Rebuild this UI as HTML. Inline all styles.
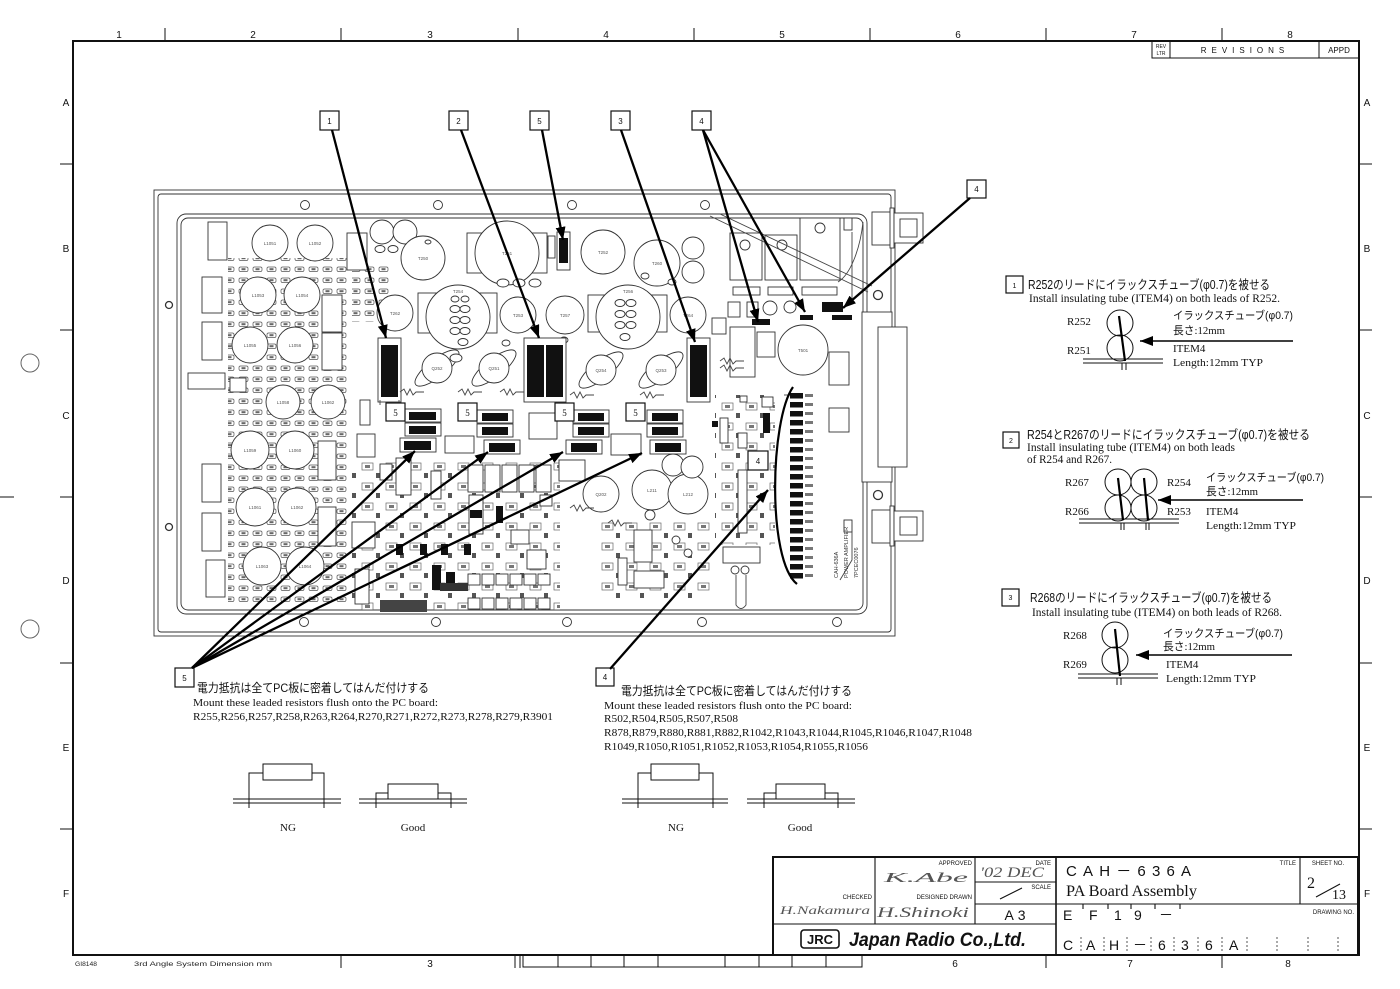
<!DOCTYPE html>
<html><head><meta charset="utf-8">
<style>
html,body{margin:0;padding:0;background:#fff;}
svg{display:block;}
.jp{font-family:"Liberation Sans","Noto Sans CJK JP",sans-serif;}
.sf{font-family:"Liberation Serif","Noto Sans CJK JP",serif;}
.ss{font-family:"Liberation Sans","Noto Sans CJK JP",sans-serif;}
</style></head><body>
<svg width="1400" height="989" viewBox="0 0 1400 989" xmlns="http://www.w3.org/2000/svg">
<defs>
<marker id="ah" markerUnits="userSpaceOnUse" markerWidth="13" markerHeight="10" refX="13" refY="5" orient="auto">
<path d="M0,0 L13,5 L0,10 z" fill="#000"/>
</marker>
<pattern id="smd" width="14" height="11" patternUnits="userSpaceOnUse">
<rect x="1" y="3" width="9" height="4.5" rx="1.5" fill="none" stroke="#555" stroke-width="0.7"/>
<rect x="3.5" y="4.2" width="4" height="2" fill="#666"/>
</pattern>
<pattern id="sp" width="24" height="20" patternUnits="userSpaceOnUse">
<rect x="2" y="3" width="11" height="7" fill="none" stroke="#666" stroke-width="0.7"/>
<rect x="5" y="5" width="5" height="3" fill="#777"/>
<rect x="16" y="13" width="4" height="5" fill="#555"/>
</pattern>
</defs>
<rect width="1400" height="989" fill="#fff"/>

<!-- ===== drawing frame ===== -->
<g stroke="#111" fill="none">
<rect x="73" y="41" width="1286" height="914" stroke-width="2"/>
<g stroke-width="1">
<line x1="165" y1="28" x2="165" y2="41"/><line x1="341" y1="28" x2="341" y2="41"/><line x1="518" y1="28" x2="518" y2="41"/><line x1="694" y1="28" x2="694" y2="41"/><line x1="870" y1="28" x2="870" y2="41"/><line x1="1046" y1="28" x2="1046" y2="41"/><line x1="1222" y1="28" x2="1222" y2="41"/>
<line x1="60" y1="164" x2="73" y2="164"/><line x1="60" y1="330" x2="73" y2="330"/><line x1="60" y1="497" x2="73" y2="497"/><line x1="60" y1="663" x2="73" y2="663"/><line x1="60" y1="829" x2="73" y2="829"/>
<line x1="1359" y1="164" x2="1372" y2="164"/><line x1="1359" y1="330" x2="1372" y2="330"/><line x1="1359" y1="497" x2="1372" y2="497"/><line x1="1359" y1="663" x2="1372" y2="663"/><line x1="1359" y1="829" x2="1372" y2="829"/>
<line x1="341" y1="955" x2="341" y2="968"/><line x1="515" y1="955" x2="515" y2="968"/><line x1="520" y1="955" x2="520" y2="968"/>
<line x1="1046" y1="955" x2="1046" y2="968"/><line x1="1222" y1="955" x2="1222" y2="968"/>
<line x1="0" y1="497" x2="14" y2="497"/>
</g>
<circle cx="30" cy="363" r="9" stroke="#666" stroke-width="1"/>
<circle cx="30" cy="629" r="9" stroke="#666" stroke-width="1"/>
<g stroke-width="1">
<rect x="523" y="955" width="339" height="12"/>
<line x1="558" y1="955" x2="558" y2="967"/><line x1="591" y1="955" x2="591" y2="967"/><line x1="624" y1="955" x2="624" y2="967"/><line x1="658" y1="955" x2="658" y2="967"/><line x1="725" y1="955" x2="725" y2="967"/><line x1="759" y1="955" x2="759" y2="967"/><line x1="792" y1="955" x2="792" y2="967"/><line x1="826" y1="955" x2="826" y2="967"/>
</g>
<rect x="1152" y="41" width="207" height="17" stroke-width="1"/>
<line x1="1170" y1="41" x2="1170" y2="58" stroke-width="1"/>
<line x1="1319" y1="41" x2="1319" y2="58" stroke-width="1"/>
</g>
<g class="ss" font-size="10" fill="#111" text-anchor="middle">
<text x="119" y="38">1</text><text x="253" y="38">2</text><text x="430" y="38">3</text><text x="606" y="38">4</text><text x="782" y="38">5</text><text x="958" y="38">6</text><text x="1134" y="38">7</text><text x="1290" y="38">8</text>
<text x="66" y="106">A</text><text x="66" y="252">B</text><text x="66" y="419">C</text><text x="66" y="584">D</text><text x="66" y="751">E</text><text x="66" y="897">F</text>
<text x="1367" y="106">A</text><text x="1367" y="252">B</text><text x="1367" y="419">C</text><text x="1367" y="584">D</text><text x="1367" y="751">E</text><text x="1367" y="897">F</text>
<text x="430" y="967">3</text><text x="955" y="967">6</text><text x="1130" y="967">7</text><text x="1288" y="967">8</text>
<text x="1161" y="48" font-size="5">REV</text><text x="1161" y="55" font-size="5">LTR</text>
<text x="1245" y="53" font-size="8" letter-spacing="5">REVISIONS</text>
<text x="1339" y="53" font-size="8">APPD</text>
</g>
<g class="ss" font-size="6.5" fill="#222">
<text x="75" y="966" textLength="22" lengthAdjust="spacingAndGlyphs">GI8148</text>
<text x="134" y="966" textLength="138" lengthAdjust="spacingAndGlyphs">3rd Angle System  Dimension mm</text>
</g>

<!-- ===== PCB ===== -->
<g stroke="#333" stroke-width="0.9" fill="none">
<rect x="154" y="190" width="741" height="446"/>
<rect x="158" y="194" width="733" height="438" rx="3"/>
<rect x="177" y="214" width="690" height="400" rx="9"/>
<rect x="181" y="218" width="682" height="392" rx="7"/>
</g>
<rect x="228" y="258" width="122" height="345" fill="url(#smd)"/>
<rect x="352" y="262" width="40" height="60" fill="url(#smd)"/>
<rect x="350" y="462" width="210" height="148" fill="url(#sp)"/>
<rect x="600" y="520" width="110" height="80" fill="url(#sp)"/>
<rect x="715" y="395" width="60" height="150" fill="url(#sp)"/>

<g stroke="#333" stroke-width="0.9" fill="#fff">
<circle cx="305" cy="205" r="4.5"/><circle cx="438" cy="205" r="4.5"/><circle cx="572" cy="205" r="4.5"/><circle cx="705" cy="205" r="4.5"/>
<circle cx="304" cy="622" r="4.5"/><circle cx="436" cy="622" r="4.5"/><circle cx="567" cy="622" r="4.5"/><circle cx="702" cy="622" r="4.5"/><circle cx="837" cy="622" r="4.5"/>
<circle cx="169" cy="305" r="3.5" stroke-width="1.3"/><circle cx="169" cy="527" r="3.5" stroke-width="1.3"/>
<circle cx="878" cy="295" r="4.5" stroke-width="1.3"/><circle cx="878" cy="495" r="4.5" stroke-width="1.3"/>
<rect x="208" y="222" width="19" height="38"/>
<circle cx="270" cy="243" r="18"/><circle cx="315" cy="243" r="18"/>
<rect x="202" y="277" width="20" height="36"/><rect x="202" y="322" width="20" height="38"/>
<circle cx="258" cy="295" r="18"/><circle cx="302" cy="295" r="18"/>
<circle cx="250" cy="345" r="18"/><circle cx="295" cy="345" r="18"/>
<rect x="322" y="295" width="20" height="37"/><rect x="322" y="333" width="20" height="37"/>
<rect x="188" y="373" width="37" height="16"/>
<circle cx="283" cy="402" r="17"/><circle cx="328" cy="402" r="17"/>
<circle cx="250" cy="450" r="19"/><circle cx="295" cy="450" r="19"/>
<circle cx="255" cy="507" r="19"/><circle cx="297" cy="507" r="19"/>
<circle cx="262" cy="566" r="19"/><circle cx="305" cy="566" r="19"/>
<rect x="202" y="464" width="19" height="38"/><rect x="202" y="513" width="19" height="38"/><rect x="206" y="560" width="19" height="37"/>
<rect x="318" y="441" width="18" height="39"/><rect x="318" y="507" width="18" height="39"/>
<rect x="360" y="400" width="10" height="25"/>
<rect x="347" y="233" width="20" height="37"/>
<rect x="230" y="378" width="16" height="14"/>
<circle cx="382" cy="232" r="12"/><circle cx="405" cy="232" r="12"/>
<circle cx="423" cy="258" r="22"/>
<rect x="418" y="293" width="79" height="40"/><circle cx="458" cy="317" r="32"/>
<circle cx="395" cy="313" r="18"/>
<rect x="467" y="233" width="80" height="40"/><circle cx="507" cy="253" r="32"/>
<circle cx="518" cy="315" r="18"/>
<circle cx="565" cy="315" r="19"/>
<rect x="588" y="295" width="79" height="37"/><circle cx="628" cy="317" r="32"/>
<circle cx="603" cy="252" r="22"/>
<circle cx="657" cy="263" r="23"/>
<circle cx="693" cy="248" r="11"/><circle cx="693" cy="272" r="11"/>
<circle cx="688" cy="315" r="18"/>
<rect x="557" y="232" width="13" height="38"/>
<rect x="548" y="236" width="7" height="22"/>
<ellipse cx="437" cy="368" rx="27" ry="9" transform="rotate(-38 437 368)"/><circle cx="437" cy="368" r="15"/>
<ellipse cx="494" cy="368" rx="27" ry="9" transform="rotate(-38 494 368)"/><circle cx="494" cy="368" r="15"/>
<ellipse cx="601" cy="370" rx="27" ry="9" transform="rotate(-38 601 370)"/><circle cx="601" cy="370" r="15"/>
<ellipse cx="661" cy="370" rx="27" ry="9" transform="rotate(-38 661 370)"/><circle cx="661" cy="370" r="15"/>
<ellipse cx="380" cy="249" rx="5" ry="3.5"/><ellipse cx="393" cy="249" rx="5" ry="3.5"/>
<ellipse cx="503" cy="283" rx="6" ry="4"/><ellipse cx="519" cy="283" rx="6" ry="4"/><ellipse cx="535" cy="283" rx="6" ry="4"/>
<ellipse cx="455" cy="299" rx="4" ry="3"/><ellipse cx="465" cy="299" rx="4" ry="3"/><ellipse cx="455" cy="309" rx="5" ry="3.5"/><ellipse cx="465" cy="309" rx="5" ry="3.5"/><ellipse cx="455" cy="320" rx="5" ry="3.5"/><ellipse cx="465" cy="320" rx="5" ry="3.5"/><ellipse cx="455" cy="331" rx="5" ry="3.5"/><ellipse cx="465" cy="331" rx="5" ry="3.5"/><ellipse cx="463" cy="342" rx="5" ry="3.5"/>
<ellipse cx="620" cy="303" rx="5" ry="3.5"/><ellipse cx="631" cy="303" rx="5" ry="3.5"/><ellipse cx="620" cy="314" rx="5" ry="3.5"/><ellipse cx="631" cy="314" rx="5" ry="3.5"/><ellipse cx="620" cy="325" rx="5" ry="3.5"/><ellipse cx="631" cy="325" rx="5" ry="3.5"/><ellipse cx="625" cy="337" rx="5" ry="3.5"/>
<ellipse cx="428" cy="242" rx="3" ry="2"/><ellipse cx="456" cy="358" rx="6" ry="4"/><ellipse cx="564" cy="340" rx="4" ry="3"/><ellipse cx="506" cy="343" rx="4" ry="3"/>
<ellipse cx="645" cy="276" rx="4" ry="3"/><ellipse cx="672" cy="282" rx="4" ry="3"/>
<rect x="378" y="338" width="23" height="64"/>
<rect x="524" y="338" width="42" height="64"/>
<rect x="687" y="338" width="23" height="64"/>
<rect x="405" y="409" width="36" height="13"/><rect x="405" y="423" width="36" height="13"/><rect x="400" y="438" width="36" height="14"/>
<rect x="477" y="410" width="36" height="13"/><rect x="477" y="424" width="36" height="13"/><rect x="484" y="440" width="36" height="14"/>
<rect x="573" y="410" width="36" height="13"/><rect x="573" y="424" width="36" height="13"/><rect x="566" y="440" width="36" height="14"/>
<rect x="647" y="410" width="36" height="13"/><rect x="647" y="424" width="36" height="13"/><rect x="650" y="440" width="36" height="14"/>
<rect x="445" y="436" width="29" height="17"/><rect x="611" y="434" width="30" height="21"/>
<rect x="529" y="413" width="28" height="26"/>
<rect x="357" y="434" width="18" height="23"/>
<rect x="380" y="464" width="12" height="16"/>
<rect x="396" y="458" width="15" height="37"/>
<rect x="431" y="471" width="10" height="28"/>
<rect x="468" y="465" width="15" height="27"/><rect x="485" y="465" width="15" height="27"/><rect x="502" y="465" width="15" height="27"/><rect x="519" y="465" width="15" height="27"/><rect x="536" y="465" width="15" height="27"/>
<rect x="559" y="460" width="26" height="21"/>
<rect x="352" y="522" width="23" height="26"/>
<rect x="355" y="569" width="14" height="35"/>
<rect x="469" y="495" width="14" height="39"/>
<rect x="511" y="530" width="18" height="14"/>
<rect x="527" y="550" width="19" height="19"/>
<rect x="540" y="495" width="12" height="11"/>
<rect x="468" y="574" width="12" height="11"/><rect x="482" y="574" width="12" height="11"/><rect x="496" y="574" width="12" height="11"/><rect x="510" y="574" width="12" height="11"/><rect x="524" y="574" width="12" height="11"/><rect x="538" y="574" width="12" height="11"/>
<rect x="468" y="598" width="12" height="11"/><rect x="482" y="598" width="12" height="11"/><rect x="496" y="598" width="12" height="11"/><rect x="510" y="598" width="12" height="11"/><rect x="524" y="598" width="12" height="11"/><rect x="538" y="598" width="12" height="11"/>
<rect x="618" y="558" width="9" height="27"/>
<rect x="634" y="571" width="30" height="17"/>
<rect x="634" y="530" width="18" height="32"/>
<circle cx="601" cy="494" r="18"/><circle cx="652" cy="490" r="20"/><circle cx="688" cy="494" r="20"/>
<circle cx="673" cy="465" r="11"/><circle cx="692" cy="467" r="11"/>
<circle cx="650" cy="515" r="5"/><circle cx="676" cy="540" r="4"/><circle cx="688" cy="553" r="4"/>
<rect x="730" y="233" width="32" height="47"/><rect x="765" y="235" width="32" height="45"/><rect x="800" y="218" width="40" height="62"/>
<rect x="733" y="287" width="27" height="8"/><rect x="768" y="287" width="25" height="8"/><rect x="802" y="287" width="35" height="8"/>
<circle cx="745" cy="245" r="5"/><circle cx="782" cy="245" r="5"/><circle cx="820" cy="228" r="5"/>
<rect x="728" y="302" width="12" height="15"/><rect x="747" y="302" width="11" height="15"/>
<circle cx="770" cy="308" r="7"/><circle cx="790" cy="307" r="6"/>
<rect x="712" y="318" width="14" height="16"/>
<rect x="730" y="327" width="25" height="50"/>
<rect x="757" y="332" width="18" height="25"/>
<circle cx="803" cy="350" r="25"/>
<rect x="829" y="352" width="20" height="33"/>
<rect x="829" y="408" width="20" height="24"/>
<rect x="740" y="396" width="7" height="6"/><rect x="762" y="397" width="11" height="10"/>
<rect x="720" y="418" width="8" height="25"/><rect x="738" y="433" width="9" height="15"/>
<rect x="738" y="470" width="9" height="63"/>
<rect x="723" y="547" width="37" height="16"/>
<circle cx="735" cy="570" r="4"/><circle cx="745" cy="570" r="4"/>
<rect x="862" y="312" width="30" height="170"/>
<rect x="878" y="327" width="29" height="140"/>
<rect x="872" y="212" width="20" height="33"/><rect x="890" y="208" width="4" height="40"/><rect x="894" y="213" width="29" height="30"/><rect x="900" y="219" width="17" height="18"/>
<rect x="872" y="510" width="20" height="33"/><rect x="890" y="506" width="4" height="40"/><rect x="894" y="511" width="29" height="30"/><rect x="900" y="517" width="17" height="18"/>
<rect x="844" y="218" width="8" height="12"/><rect x="844" y="520" width="8" height="12"/>
</g>
<g stroke="#444" stroke-width="0.9" fill="none">
<path d="M710 216 L868 292"/><path d="M720 214 L872 286"/>
<path d="M863 222 C 860 250, 850 275, 838 282"/>
<path d="M736 575 L736 605 Q741 612 746 605 L746 575"/>
<path d="M852 232 L852 300"/><path d="M852 525 L852 560 L840 580"/>
<polyline points="400,392 404,389 407,395 410,389 413,395 416,392 424,392"/>
<polyline points="458,392 462,389 465,395 468,389 471,395 474,392 482,392"/>
<polyline points="500,392 504,389 507,395 510,389 513,395 516,392 524,392"/>
<polyline points="570,395 574,392 577,398 580,392 583,398 586,395 594,395"/>
<polyline points="640,395 644,392 647,398 650,392 653,398 656,395 664,395"/>
<polyline points="570,508 574,505 577,511 580,505 583,511 586,508 594,508"/>
<polyline points="608,523 612,520 615,526 618,520 621,526 624,523 632,523"/>
<polyline points="720,361 724,358 727,364 730,358 733,364 736,361 744,361"/>
<polyline points="720,368 724,365 727,371 730,365 733,371 736,368 744,368"/>
<line x1="784" y1="395" x2="790" y2="395"/>
<path d="M380 405 V400 M399 405 V400"/>
</g>
<g fill="#111">
<rect x="381" y="345" width="17" height="52"/>
<rect x="527" y="345" width="17" height="52"/><rect x="546" y="345" width="17" height="52"/>
<rect x="690" y="345" width="17" height="52"/>
<rect x="559" y="238" width="9" height="25"/>
<rect x="409" y="412" width="27" height="8"/><rect x="409" y="426" width="27" height="8"/><rect x="404" y="441" width="27" height="9"/>
<rect x="482" y="413" width="26" height="8"/><rect x="482" y="427" width="26" height="8"/><rect x="489" y="443" width="26" height="9"/>
<rect x="578" y="413" width="26" height="8"/><rect x="578" y="427" width="26" height="8"/><rect x="571" y="443" width="26" height="9"/>
<rect x="652" y="413" width="26" height="8"/><rect x="652" y="427" width="26" height="8"/><rect x="655" y="443" width="26" height="9"/>
<rect x="396" y="544" width="7" height="11"/><rect x="420" y="544" width="7" height="11"/><rect x="441" y="544" width="7" height="11"/><rect x="464" y="544" width="7" height="11"/>
<rect x="432" y="565" width="9" height="25"/><rect x="446" y="572" width="9" height="18"/>
<rect x="496" y="506" width="7" height="17"/><rect x="470" y="510" width="12" height="8"/>
<rect x="380" y="600" width="47" height="12" fill="#444"/>
<rect x="440" y="583" width="28" height="8" fill="#333"/>
<rect x="752" y="319" width="18" height="6"/><rect x="800" y="315" width="13" height="5"/><rect x="822" y="302" width="21" height="10"/><rect x="832" y="315" width="20" height="5"/>
<rect x="763" y="413" width="7" height="20"/>
<rect x="712" y="421" width="6" height="6"/>
<rect x="790" y="393" width="13" height="5.5"/><rect x="790" y="402" width="13" height="5.5"/><rect x="790" y="411" width="13" height="5.5"/><rect x="790" y="420" width="13" height="5.5"/><rect x="790" y="429" width="13" height="5.5"/><rect x="790" y="438" width="13" height="5.5"/><rect x="790" y="447" width="13" height="5.5"/><rect x="790" y="456" width="13" height="5.5"/><rect x="790" y="465" width="13" height="5.5"/><rect x="790" y="474" width="13" height="5.5"/><rect x="790" y="483" width="13" height="5.5"/><rect x="790" y="492" width="13" height="5.5"/><rect x="790" y="501" width="13" height="5.5"/><rect x="790" y="510" width="13" height="5.5"/><rect x="790" y="519" width="13" height="5.5"/><rect x="790" y="528" width="13" height="5.5"/><rect x="790" y="537" width="13" height="5.5"/><rect x="790" y="546" width="13" height="5.5"/><rect x="790" y="555" width="13" height="5.5"/><rect x="790" y="564" width="13" height="5.5"/><rect x="790" y="573" width="13" height="5.5"/>
</g>
<g fill="#777">
<rect x="805" y="394" width="8" height="3"/><rect x="805" y="403" width="8" height="3"/><rect x="805" y="412" width="8" height="3"/><rect x="805" y="421" width="8" height="3"/><rect x="805" y="430" width="8" height="3"/><rect x="805" y="439" width="8" height="3"/><rect x="805" y="448" width="8" height="3"/><rect x="805" y="457" width="8" height="3"/><rect x="805" y="466" width="8" height="3"/><rect x="805" y="475" width="8" height="3"/><rect x="805" y="484" width="8" height="3"/><rect x="805" y="493" width="8" height="3"/><rect x="805" y="502" width="8" height="3"/><rect x="805" y="511" width="8" height="3"/><rect x="805" y="520" width="8" height="3"/><rect x="805" y="529" width="8" height="3"/><rect x="805" y="538" width="8" height="3"/><rect x="805" y="547" width="8" height="3"/><rect x="805" y="556" width="8" height="3"/><rect x="805" y="565" width="8" height="3"/><rect x="805" y="574" width="8" height="3"/>
</g>
<path d="M793 387 C 770 420, 767 560, 797 584" stroke="#000" stroke-width="2.2" fill="none"/>
<g class="ss" font-size="4.5" fill="#555" text-anchor="middle">
<text x="270" y="245">L1051</text><text x="315" y="245">L1052</text><text x="258" y="297">L1053</text><text x="302" y="297">L1054</text>
<text x="250" y="347">L1055</text><text x="295" y="347">L1056</text><text x="283" y="404">L1058</text><text x="328" y="404">L1062</text>
<text x="250" y="452">L1059</text><text x="295" y="452">L1060</text><text x="255" y="509">L1061</text><text x="297" y="509">L1062</text>
<text x="262" y="568">L1063</text><text x="305" y="568">L1064</text>
<text x="423" y="260">T250</text><text x="395" y="315">T262</text><text x="458" y="293">T254</text><text x="507" y="255">T251</text>
<text x="518" y="317">T253</text><text x="565" y="317">T257</text><text x="628" y="293">T256</text><text x="603" y="254">T252</text>
<text x="657" y="265">T260</text><text x="688" y="317">T264</text><text x="803" y="352">T501</text>
<text x="437" y="370">Q252</text><text x="494" y="370">Q251</text><text x="601" y="372">Q254</text><text x="661" y="372">Q253</text>
<text x="601" y="496">Q202</text><text x="652" y="492">L211</text><text x="688" y="496">L212</text>
</g>
<g class="ss" font-size="5.5" fill="#333">
<text transform="translate(838,578) rotate(-90)">CAH-636A</text>
<text transform="translate(848,578) rotate(-90)">POWER AMPLIFIER</text>
<text transform="translate(858,578) rotate(-90)">7PCEC0076</text>
</g>

<!-- ===== callout boxes ===== -->
<g stroke="#111" stroke-width="1.2" fill="#fff">
<rect x="320" y="111" width="19" height="19"/><rect x="449" y="111" width="19" height="19"/><rect x="530" y="111" width="19" height="19"/><rect x="611" y="111" width="19" height="19"/><rect x="692" y="111" width="19" height="19"/>
<rect x="967" y="180" width="19" height="18"/>
<rect x="386" y="403" width="19" height="18"/><rect x="458" y="403" width="19" height="18"/><rect x="555" y="403" width="19" height="18"/><rect x="626" y="403" width="19" height="18"/>
<rect x="748" y="451" width="20" height="19"/>
<rect x="175" y="668" width="19" height="19"/><rect x="596" y="668" width="18" height="18"/>
<rect x="1006" y="276" width="17" height="17"/><rect x="1003" y="432" width="16" height="16"/><rect x="1002" y="589" width="17" height="17"/>
</g>
<g class="ss" font-size="8" fill="#111" text-anchor="middle">
<text x="329.5" y="124">1</text><text x="458.5" y="124">2</text><text x="539.5" y="124">5</text><text x="620.5" y="124">3</text><text x="701.5" y="124">4</text>
<text x="976.5" y="192">4</text>
<text class="sf" x="395.5" y="416" font-size="9">5</text><text class="sf" x="467.5" y="416" font-size="9">5</text><text class="sf" x="564.5" y="416" font-size="9">5</text><text class="sf" x="635.5" y="416" font-size="9">5</text>
<text x="758" y="464">4</text>
<text x="184.5" y="681">5</text><text x="605" y="680">4</text>
<text x="1014.5" y="288" font-size="7">1</text><text x="1011" y="443" font-size="7">2</text><text x="1010.5" y="600" font-size="7">3</text>
</g>

<!-- ===== arrows ===== -->
<g stroke="#000" stroke-width="2.3" fill="none" marker-end="url(#ah)">
<line x1="332" y1="130" x2="386" y2="338"/>
<line x1="461" y1="130" x2="539" y2="338"/>
<line x1="542" y1="130" x2="563" y2="240"/>
<line x1="621" y1="130" x2="695" y2="342"/>
<line x1="703" y1="130" x2="758" y2="322"/>
<line x1="703" y1="130" x2="805" y2="312"/>
<line x1="970" y1="198" x2="843" y2="308"/>
<line x1="192" y1="668" x2="415" y2="451"/>
<line x1="192" y1="668" x2="488" y2="452"/>
<line x1="192" y1="668" x2="563" y2="452"/>
<line x1="192" y1="668" x2="642" y2="453"/>
<line x1="610" y1="669" x2="768" y2="490"/>
</g>

<!-- ===== right notes ===== -->
<g fill="#111">
<text class="jp" x="1028" y="289" font-size="12.5" textLength="242" lengthAdjust="spacingAndGlyphs">R252のリードにイラックスチューブ(φ0.7)を被せる</text>
<text class="sf" x="1029" y="302" font-size="11.5" textLength="251" lengthAdjust="spacingAndGlyphs">Install insulating tube (ITEM4)  on both leads of R252.</text>
<text class="sf" x="1067" y="325" font-size="11">R252</text><text class="sf" x="1067" y="354" font-size="11">R251</text>
<text class="jp" x="1173" y="319" font-size="11" textLength="120" lengthAdjust="spacingAndGlyphs">イラックスチューブ(φ0.7)</text>
<text class="sf" x="1173" y="334" font-size="11" textLength="52" lengthAdjust="spacingAndGlyphs">長さ:12mm</text>
<text class="sf" x="1173" y="352" font-size="11">ITEM4</text>
<text class="sf" x="1173" y="366" font-size="11" textLength="90" lengthAdjust="spacingAndGlyphs">Length:12mm TYP</text>

<text class="jp" x="1027" y="439" font-size="12.5" textLength="283" lengthAdjust="spacingAndGlyphs">R254とR267のリードにイラックスチューブ(φ0.7)を被せる</text>
<text class="sf" x="1027" y="451" font-size="11.5" textLength="208" lengthAdjust="spacingAndGlyphs">Install insulating tube (ITEM4)  on both leads</text>
<text class="sf" x="1027" y="463" font-size="11.5" textLength="85" lengthAdjust="spacingAndGlyphs">of R254 and R267.</text>
<text class="sf" x="1065" y="486" font-size="11">R267</text><text class="sf" x="1065" y="515" font-size="11">R266</text>
<text class="sf" x="1167" y="486" font-size="11">R254</text><text class="sf" x="1167" y="515" font-size="11">R253</text>
<text class="jp" x="1206" y="481" font-size="11" textLength="118" lengthAdjust="spacingAndGlyphs">イラックスチューブ(φ0.7)</text>
<text class="sf" x="1206" y="495" font-size="11" textLength="52" lengthAdjust="spacingAndGlyphs">長さ:12mm</text>
<text class="sf" x="1206" y="515" font-size="11">ITEM4</text>
<text class="sf" x="1206" y="529" font-size="11" textLength="90" lengthAdjust="spacingAndGlyphs">Length:12mm TYP</text>

<text class="jp" x="1030" y="602" font-size="12.5" textLength="242" lengthAdjust="spacingAndGlyphs">R268のリードにイラックスチューブ(φ0.7)を被せる</text>
<text class="sf" x="1032" y="616" font-size="11.5" textLength="250" lengthAdjust="spacingAndGlyphs">Install insulating tube (ITEM4)  on both leads of R268.</text>
<text class="sf" x="1063" y="639" font-size="11">R268</text><text class="sf" x="1063" y="668" font-size="11">R269</text>
<text class="jp" x="1163" y="637" font-size="11" textLength="120" lengthAdjust="spacingAndGlyphs">イラックスチューブ(φ0.7)</text>
<text class="sf" x="1163" y="650" font-size="11" textLength="52" lengthAdjust="spacingAndGlyphs">長さ:12mm</text>
<text class="sf" x="1166" y="668" font-size="11">ITEM4</text>
<text class="sf" x="1166" y="682" font-size="11" textLength="90" lengthAdjust="spacingAndGlyphs">Length:12mm TYP</text>
</g>
<g stroke="#111" fill="none" stroke-width="1">
<circle cx="1120" cy="323" r="13"/><circle cx="1120" cy="348" r="13"/>
<line x1="1083" y1="359" x2="1163" y2="359"/><line x1="1083" y1="363" x2="1163" y2="363"/>
<line x1="1122" y1="363" x2="1122" y2="370"/><line x1="1126" y1="363" x2="1126" y2="370"/>
<circle cx="1118" cy="482" r="13"/><circle cx="1144" cy="482" r="13"/><circle cx="1118" cy="508" r="13"/><circle cx="1144" cy="508" r="13"/>
<line x1="1079" y1="519" x2="1179" y2="519"/><line x1="1079" y1="523" x2="1179" y2="523"/>
<line x1="1121" y1="523" x2="1121" y2="530"/><line x1="1124" y1="523" x2="1124" y2="530"/><line x1="1146" y1="523" x2="1146" y2="530"/><line x1="1149" y1="523" x2="1149" y2="530"/>
<circle cx="1115" cy="635" r="13"/><circle cx="1115" cy="660" r="13"/>
<line x1="1078" y1="674" x2="1158" y2="674"/><line x1="1078" y1="678" x2="1158" y2="678"/>
<line x1="1117" y1="678" x2="1117" y2="685"/><line x1="1121" y1="678" x2="1121" y2="685"/>
</g>
<g stroke="#000" stroke-width="2.2">
<line x1="1119" y1="316" x2="1125" y2="361"/>
<line x1="1118" y1="478" x2="1123" y2="520"/><line x1="1144" y1="478" x2="1148" y2="520"/>
<line x1="1115" y1="629" x2="1120" y2="676"/>
</g>
<g stroke="#000" stroke-width="1.4" marker-end="url(#ah)">
<line x1="1293" y1="341" x2="1140" y2="341"/>
<line x1="1303" y1="500" x2="1158" y2="500"/>
<line x1="1292" y1="655" x2="1136" y2="655"/>
</g>

<!-- ===== bottom notes ===== -->
<g fill="#111">
<text class="jp" x="197" y="692" font-size="12" textLength="232" lengthAdjust="spacingAndGlyphs">電力抵抗は全てPC板に密着してはんだ付けする</text>
<text class="sf" x="193" y="706" font-size="11" textLength="245" lengthAdjust="spacingAndGlyphs">Mount these leaded resistors flush onto the  PC board:</text>
<text class="sf" x="193" y="720" font-size="11" textLength="360" lengthAdjust="spacingAndGlyphs">R255,R256,R257,R258,R263,R264,R270,R271,R272,R273,R278,R279,R3901</text>
<text class="jp" x="621" y="695" font-size="12" textLength="231" lengthAdjust="spacingAndGlyphs">電力抵抗は全てPC板に密着してはんだ付けする</text>
<text class="sf" x="604" y="709" font-size="11" textLength="248" lengthAdjust="spacingAndGlyphs">Mount these leaded resistors flush onto the  PC board:</text>
<text class="sf" x="604" y="722" font-size="11" textLength="134" lengthAdjust="spacingAndGlyphs">R502,R504,R505,R507,R508</text>
<text class="sf" x="604" y="736" font-size="11" textLength="368" lengthAdjust="spacingAndGlyphs">R878,R879,R880,R881,R882,R1042,R1043,R1044,R1045,R1046,R1047,R1048</text>
<text class="sf" x="604" y="750" font-size="11" textLength="264" lengthAdjust="spacingAndGlyphs">R1049,R1050,R1051,R1052,R1053,R1054,R1055,R1056</text>
<g class="sf" font-size="11" text-anchor="middle">
<text x="288" y="831">NG</text><text x="413" y="831">Good</text>
<text x="676" y="831">NG</text><text x="800" y="831">Good</text>
</g>
</g>
<g stroke="#111" stroke-width="1" fill="none">
<line x1="233" y1="799" x2="341" y2="799"/><line x1="233" y1="803" x2="341" y2="803"/>
<rect x="263" y="764" width="49" height="16"/>
<polyline points="263,773 249,773 249,808"/><polyline points="312,773 324,773 324,808"/>
<line x1="359" y1="799" x2="467" y2="799"/><line x1="359" y1="803" x2="467" y2="803"/>
<rect x="388" y="784" width="50" height="15"/>
<polyline points="388,793 376,793 376,808"/><polyline points="438,793 451,793 451,808"/>
<line x1="622" y1="799" x2="728" y2="799"/><line x1="622" y1="803" x2="728" y2="803"/>
<rect x="651" y="764" width="48" height="16"/>
<polyline points="651,773 638,773 638,808"/><polyline points="699,773 713,773 713,808"/>
<line x1="747" y1="799" x2="855" y2="799"/><line x1="747" y1="803" x2="855" y2="803"/>
<rect x="776" y="784" width="49" height="15"/>
<polyline points="776,793 764,793 764,808"/><polyline points="825,793 838,793 838,808"/>
</g>

<!-- ===== title block ===== -->
<g stroke="#111" fill="none">
<rect x="773" y="857" width="585" height="98" stroke-width="2"/>
<g stroke-width="1.1">
<line x1="875" y1="857" x2="875" y2="924"/>
<line x1="975" y1="857" x2="975" y2="924"/>
<line x1="1056" y1="857" x2="1056" y2="955" stroke-width="1.6"/>
<line x1="1300" y1="857" x2="1300" y2="904"/>
<line x1="975" y1="882" x2="1056" y2="882"/>
<line x1="975" y1="904" x2="1358" y2="904"/>
<line x1="773" y1="924" x2="1056" y2="924"/>
<line x1="1000" y1="899" x2="1022" y2="888"/>
<line x1="1316" y1="897" x2="1340" y2="884"/>
<line x1="1083" y1="904" x2="1083" y2="909"/><line x1="1108" y1="904" x2="1108" y2="909"/><line x1="1131" y1="904" x2="1131" y2="909"/><line x1="1155" y1="904" x2="1155" y2="909"/><line x1="1180" y1="904" x2="1180" y2="909"/>
</g>
<g stroke-width="0.9" stroke="#444" stroke-dasharray="2,2">
<line x1="1081" y1="937" x2="1081" y2="952"/><line x1="1104" y1="937" x2="1104" y2="952"/><line x1="1127" y1="937" x2="1127" y2="952"/><line x1="1151" y1="937" x2="1151" y2="952"/><line x1="1174" y1="937" x2="1174" y2="952"/><line x1="1198" y1="937" x2="1198" y2="952"/><line x1="1222" y1="937" x2="1222" y2="952"/><line x1="1247" y1="937" x2="1247" y2="952"/><line x1="1277" y1="937" x2="1277" y2="952"/><line x1="1308" y1="937" x2="1308" y2="952"/><line x1="1338" y1="937" x2="1338" y2="952"/>
</g>
<rect x="801" y="930" width="38" height="18" rx="3" stroke-width="1.6"/>
</g>
<g class="ss" fill="#111" font-size="6">
<text x="972" y="865" text-anchor="end">APPROVED</text>
<text x="1051" y="865" text-anchor="end">DATE</text>
<text x="1051" y="889" text-anchor="end">SCALE</text>
<text x="872" y="899" text-anchor="end">CHECKED</text>
<text x="972" y="899" text-anchor="end">DESIGNED DRAWN</text>
<text x="1296" y="865" text-anchor="end">TITLE</text>
<text x="1328" y="865" text-anchor="middle">SHEET NO.</text>
<text x="1354" y="914" text-anchor="end">DRAWING NO.</text>
</g>
<g fill="#111">
<text class="ss" x="1017" y="920" font-size="14" text-anchor="middle" letter-spacing="4">A3</text>
<text class="ss" x="1066" y="876" font-size="15" textLength="125" lengthAdjust="spacing">CAH－636A</text>
<text class="sf" x="1066" y="896" font-size="15.5" textLength="131" lengthAdjust="spacingAndGlyphs">PA Board Assembly</text>
<text class="sf" x="1307" y="888" font-size="16">2</text>
<text class="sf" x="1332" y="899" font-size="14">13</text>
<g class="ss" font-size="14">
<text x="1063" y="920">E</text><text x="1089" y="920">F</text><text x="1114" y="920">1</text><text x="1134" y="920">9</text><text x="1159" y="920">－</text>
<text x="1063" y="950">C</text><text x="1086" y="950">A</text><text x="1109" y="950">H</text><text x="1133" y="950">－</text><text x="1158" y="950">6</text><text x="1181" y="950">3</text><text x="1205" y="950">6</text><text x="1229" y="950">A</text>
</g>
<text class="ss" x="820" y="944" font-size="13" font-weight="bold" text-anchor="middle">JRC</text>
<text class="ss" x="849" y="946" font-size="19" font-weight="bold" font-style="italic" textLength="177" lengthAdjust="spacingAndGlyphs">Japan Radio Co.,Ltd.</text>
</g>
<g class="sf" font-style="italic" fill="#555">
<text x="980" y="877" font-size="15" textLength="64" lengthAdjust="spacingAndGlyphs">'02 DEC</text>
<text x="884" y="882" font-size="14" textLength="84" lengthAdjust="spacingAndGlyphs">K.Abe</text>
<text x="780" y="914" font-size="12" textLength="90" lengthAdjust="spacingAndGlyphs">H.Nakamura</text>
<text x="877" y="917" font-size="15" textLength="92" lengthAdjust="spacingAndGlyphs">H.Shinoki</text>
</g>
</svg>
</body></html>
